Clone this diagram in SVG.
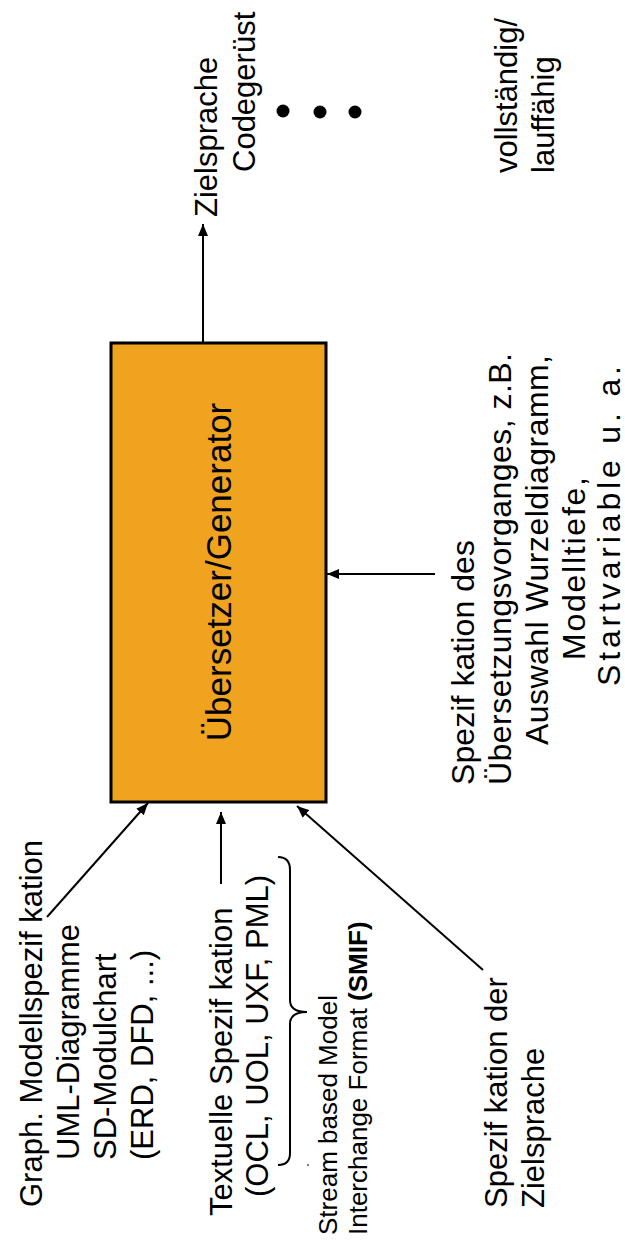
<svg xmlns="http://www.w3.org/2000/svg" width="625" height="1255" viewBox="0 0 625 1255">
  <style>
    text { font-family: "Liberation Sans", Arial, sans-serif; fill: #000; }
    .t31 { font-size: 31px; }
    .t32 { font-size: 32px; }
    .t26 { font-size: 26px; }
    .t35 { font-size: 35px; }
    .edge { stroke: #000; stroke-width: 2; fill: none; }
  </style>
  <defs>
    <marker id="arrow" viewBox="0 0 12 10" refX="12" refY="5" markerWidth="12" markerHeight="10" markerUnits="userSpaceOnUse" orient="auto">
      <path d="M0,0 L12,5 L0,10 Z" fill="#000"/>
    </marker>
  </defs>

  <rect width="625" height="1255" fill="#fff"/>

  <!-- central generator block -->
  <g id="generator">
    <rect x="111" y="343" width="215" height="459" fill="#F0A31F" stroke="#000" stroke-width="3"/>
    <g transform="rotate(-90)">
      <text class="t35" x="-572" y="231" text-anchor="middle">Übersetzer/Generator</text>
    </g>
  </g>

  <!-- inputs -->
  <g id="graph-spec" transform="rotate(-90)">
    <text class="t31" x="-1207" y="42">Graph. Modellspezif kation</text>
    <text class="t31" x="-1160" y="79">UML-Diagramme</text>
    <text class="t31" x="-1160" y="116">SD-Modulchart</text>
    <text class="t31" x="-1160" y="153">(ERD, DFD, ...)</text>
  </g>

  <g id="text-spec" transform="rotate(-90)">
    <text class="t31" x="-1216" y="232">Textuelle Spezif kation</text>
    <text class="t31" x="-1197" y="268">(OCL, UOL, UXF, PML)</text>
  </g>

  <g id="smif">
    <path class="edge" d="M278,857 C286,857 290,862 290,870 L290,1000 C290,1008 296,1012 307,1012 C296,1012 290,1016 290,1024 L290,1153 C290,1161 286,1165 278,1165"/>
    <circle cx="308" cy="1165" r="0.9" fill="#444"/>
    <g transform="rotate(-90)">
      <text class="t26" x="-1235" y="337">Stream based Model</text>
      <text class="t26" x="-1235" y="367">Interchange Format <tspan font-weight="bold">(SMIF)</tspan></text>
    </g>
  </g>

  <g id="target-spec" transform="rotate(-90)">
    <text class="t31" x="-1208" y="507">Spezif kation der</text>
    <text class="t31" x="-1208" y="544">Zielsprache</text>
  </g>

  <g id="process-spec" transform="rotate(-90)">
    <text class="t32" x="-785" y="474" textLength="245" lengthAdjust="spacing">Spezif kation des</text>
    <text class="t32" x="-785" y="511" textLength="432" lengthAdjust="spacing">Übersetzungsvorganges, z.B.</text>
    <text class="t32" x="-745" y="548" textLength="390" lengthAdjust="spacing">Auswahl Wurzeldiagramm,</text>
    <text class="t32" x="-660" y="585" textLength="183" lengthAdjust="spacing">Modelltiefe,</text>
    <text class="t32" x="-686" y="620" textLength="320" lengthAdjust="spacing">Startvariable u. a.</text>
  </g>

  <!-- outputs -->
  <g id="output" transform="rotate(-90)">
    <text class="t31" x="-217" y="217">Zielsprache</text>
    <text class="t31" x="-172" y="255">Codegerüst</text>
  </g>

  <g id="ellipsis">
    <circle cx="283" cy="111" r="6.5" fill="#000"/>
    <circle cx="320" cy="112" r="6.5" fill="#000"/>
    <circle cx="355" cy="112" r="6.5" fill="#000"/>
  </g>

  <g id="complete" transform="rotate(-90)">
    <text class="t31" x="-173" y="517">vollständig/</text>
    <text class="t31" x="-173" y="554">lauffähig</text>
  </g>

  <!-- connectors -->
  <g id="connectors">
    <line class="edge" x1="47" y1="917" x2="148" y2="803" marker-end="url(#arrow)"/>
    <line class="edge" x1="221" y1="884" x2="221" y2="812" marker-end="url(#arrow)"/>
    <line class="edge" x1="483" y1="970" x2="297" y2="806" marker-end="url(#arrow)"/>
    <line class="edge" x1="435" y1="574" x2="327" y2="574" marker-end="url(#arrow)"/>
    <line class="edge" x1="203" y1="343" x2="203" y2="224" marker-end="url(#arrow)"/>
  </g>
</svg>
